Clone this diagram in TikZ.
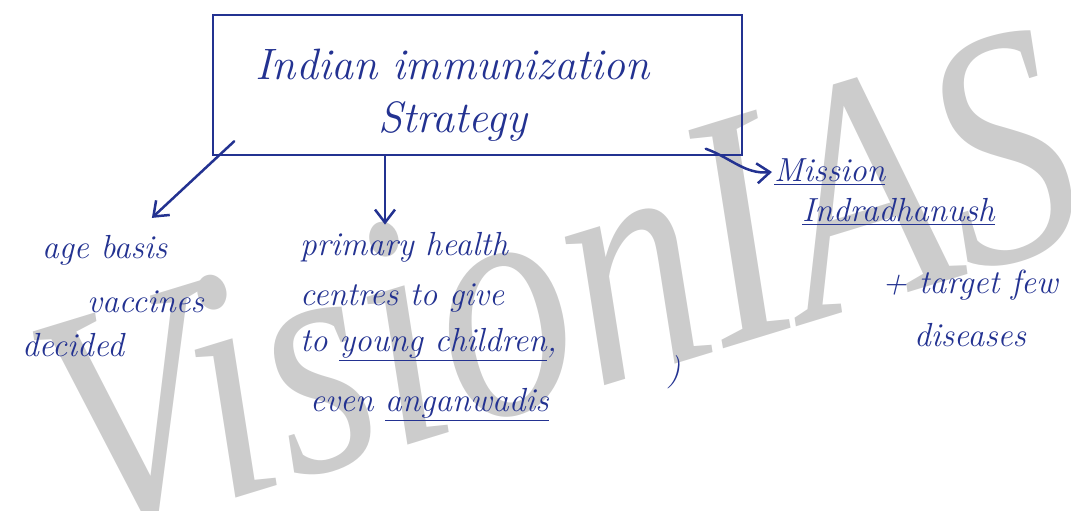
\documentclass[tikz,border=0pt]{standalone}
\usepackage{fontspec}
\newfontfamily\brandfont{Liberation Serif}
\usetikzlibrary{arrows.meta}
\definecolor{ink}{RGB}{35,50,145}
\tikzset{
	inkline/.style={line width=0.5mm, color=ink, line cap=round},
	inkarrow/.style={inkline, -{Straight Barb[length=2.6mm,width=4mm]}},
	boxed/.style={inkline, draw, minimum width=10.58cm, minimum height=2.8cm},
	title/.style={color=ink, align=center, font=\itshape\fontsize{25}{30}\selectfont},
	note/.style={color=ink, anchor=west, inner sep=1pt, font=\itshape\fontsize{19}{23}\selectfont},
	watermark/.style={color=black!20, anchor=base, inner sep=0pt, font=\brandfont\itshape\fontsize{190}{190}\selectfont}
}

\begin{document}
\begin{tikzpicture}
			%%%%% START %%%%%
			
			\useasboundingbox (0, 0) rectangle (21.42, -10.22);
			\clip (0, 0) rectangle (21.42, -10.22);
			
			\node[watermark, rotate=17, xscale=0.81] (brand) at (11.8, -7.8) {VisionIAS};
			
			\node[boxed] (strategy) at (9.55, -1.70) {};
			\node[title] (heading) at (9.05, -1.90) {Indian immunization\\Strategy};
			
			\node[note] (agebasis) at (0.8, -5.0) {age basis};
			\node[note] (vaccines) at (1.7, -6.04) {vaccines};
			\node[note] (decided) at (0.4, -6.9) {decided};
			
			\node[note] (primary) at (5.96, -4.94) {primary health};
			\node[note] (centres) at (5.96, -5.96) {centres to give};
			\node[note] (children) at (5.96, -6.9) {to \underline{young children},};
			\node[note] (paren) at (13.3, -7.44) {)};
			\node[note] (anganwadis) at (6.16, -8.1) {even \underline{anganwadis}};
			
			\node[note] (mission) at (15.44, -3.44) {\underline{Mission}};
			\node[note] (indradhanush) at (16.0, -4.24) {\underline{Indradhanush}};
			\node[note] (target) at (17.6, -5.7) {+ target few};
			\node[note] (diseases) at (18.24, -6.7) {diseases};
			
			\coordinate (drop) at (7.7, 0);
			
			\draw[inkarrow] ([xshift=0.45cm, yshift=0.3cm]strategy.south west) -- ([xshift=-0.35cm, yshift=0.3cm]agebasis.north east);
			\draw[inkarrow] (strategy.south -| drop) -- ([yshift=3pt]primary.north -| drop);
			\draw[inkarrow] ([xshift=-0.75cm, yshift=0.15cm]strategy.south east) to[out=-20, in=185] (mission.west);
			
			%%%%% END %%%%%
		\end{tikzpicture}
\end{document}
